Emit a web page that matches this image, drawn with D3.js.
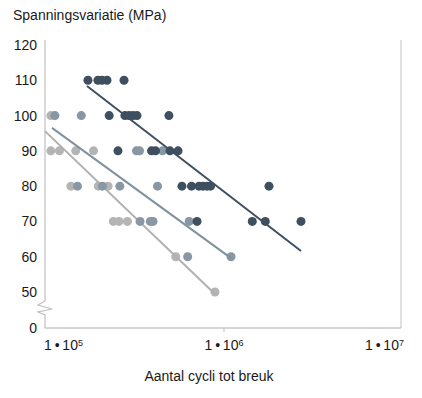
<!DOCTYPE html>
<html>
<head>
<meta charset="UTF-8">
<script src="https://cdn.jsdelivr.net/npm/d3@7"></script>
<style>
  body { margin: 0; background: #fff; font-family: "Liberation Sans", Arial, sans-serif; }
  svg text { fill: #1a1a1a; }
</style>
</head>
<body>
<script>
  // Cycles to failure (N) and stress range (MPa) for the three series
  const darkN  = [143000, 165000, 175000, 188000, 240000,
                  194000, 243000, 258000, 273000, 289000, 457000,
                  220000, 356000, 377000, 464000, 521000,
                  551000, 632000, 704000, 745000, 789000, 830000, 1920000,
                  684000, 1511000, 1821000, 3040000];
  const darkS  = [110, 110, 110, 110, 110,
                  100, 100, 100, 100, 100, 100,
                  90, 90, 90, 90, 90,
                  80, 80, 80, 80, 80, 80, 80,
                  70, 70, 70, 70];

  const midN   = [89000, 130000,
                  287000, 300000, 417000,
                  123000, 176000, 226000, 388000,
                  302000, 350000, 364000, 611000,
                  598000, 1114000];
  const midS   = [100, 100,
                  90, 90, 90,
                  80, 80, 80, 80,
                  70, 70, 70, 70,
                  60, 60];

  const lightN = [84000,
                  84000, 95000, 120000, 155000,
                  112000, 166000, 191000,
                  206000, 223000, 252000,
                  504000,
                  885000];
  const lightS = [100,
                  90, 90, 90, 90,
                  80, 80, 80,
                  70, 70, 70,
                  60,
                  50];

  // Trend lines (start, end)
  const darkFitN  = [141000, 3040000];
  const darkFitS  = [108.4, 61.6];
  const midFitN   = [85400, 1114000];
  const midFitS   = [96.5, 59.6];
  const lightFitN = [77200, 885000];
  const lightFitS = [95.6, 47.2];

  const yTicks = [0, 50, 60, 70, 80, 90, 100, 110, 120];
  const xTicks = [1e5, 1e6, 1e7];
  const xExp   = [5, 6, 7];

  const W = 422, H = 398;
  const plotLeft = 45, plotRight = 401, plotTop = 40, plotBottom = 328;

  const svg = d3.select("body").append("svg")
      .attr("width", W)
      .attr("height", H);

  // log x scale, broken y scale (0 .. 50 squeezed)
  const x = d3.scaleLog().domain([1e5, 1e7]).range([63, 384]);
  const y = d3.scaleLinear().domain([0, 50, 120]).range([plotBottom, 292, 45]);

  // frame: right border
  svg.append("line")
      .attr("x1", plotRight).attr("x2", plotRight)
      .attr("y1", plotTop).attr("y2", plotBottom)
      .attr("stroke", "#d6d6d6").attr("stroke-width", 1.5);

  // bottom axis line
  svg.append("line")
      .attr("x1", plotLeft).attr("x2", plotRight)
      .attr("y1", plotBottom).attr("y2", plotBottom)
      .attr("stroke", "#c8c8c8").attr("stroke-width", 1.5);

  // left axis line with the zigzag break
  const brk = [[plotLeft, plotTop], [plotLeft, 301], [38, 305], [52, 309], [38, 312], [plotLeft, 315], [plotLeft, plotBottom]];
  svg.append("path")
      .attr("d", d3.line()(brk))
      .attr("fill", "none")
      .attr("stroke", "#c0c0c0")
      .attr("stroke-width", 1.2);

  // y axis labels
  const yAxis = d3.axisLeft(y).tickValues(yTicks).tickSize(0).tickPadding(8).tickFormat(d3.format("d"));
  const gy = svg.append("g")
      .attr("transform", "translate(" + plotLeft + ",0)")
      .call(yAxis);
  gy.select(".domain").remove();
  gy.selectAll("text")
      .style("font-family", "Liberation Sans, Arial, sans-serif")
      .style("font-size", "14px")
      .attr("fill", "#1a1a1a");

  // x axis labels
  const xAxis = d3.axisBottom(x).tickValues(xTicks).tickSize(4).tickPadding(8).tickFormat("");
  const gx = svg.append("g")
      .attr("transform", "translate(0," + plotBottom + ")")
      .call(xAxis);
  gx.select(".domain").remove();
  gx.selectAll(".tick line")
      .attr("stroke", d => d === 1e6 ? "#c0c0c0" : "none");
  gx.selectAll(".tick text")
      .style("font-family", "Liberation Sans, Arial, sans-serif")
      .style("font-size", "14px")
      .attr("fill", "#1a1a1a")
      .each(function(d, i) {
        const t = d3.select(this);
        t.append("tspan").text("1\u2009\u2022\u200910");
        t.append("tspan").text(xExp[i])
          .attr("dy", "-0.45em")
          .style("font-size", "9px");
      });

  // title + axis label
  svg.append("text")
      .attr("x", 13).attr("y", 20)
      .style("font-size", "14px")
      .text("Spanningsvariatie (MPa)");

  svg.append("text")
      .attr("x", 209).attr("y", 381)
      .attr("text-anchor", "middle")
      .style("font-size", "14px")
      .text("Aantal cycli tot breuk");

  // series
  const series = [
    { n: lightN, s: lightS, fn: lightFitN, fs: lightFitS, dot: "#b4b4b4", line: "#b0b0b0" },
    { n: midN,   s: midS,   fn: midFitN,   fs: midFitS,   dot: "#8797a4", line: "#7f919f" },
    { n: darkN,  s: darkS,  fn: darkFitN,  fs: darkFitS,  dot: "#3e4f60", line: "#3e4f60" }
  ];

  series.forEach(function(ser) {
    svg.append("g").selectAll("circle")
        .data(d3.range(ser.n.length))
      .enter().append("circle")
        .attr("cx", i => x(ser.n[i]))
        .attr("cy", i => y(ser.s[i]))
        .attr("r", 4.5)
        .attr("fill", ser.dot);

    svg.append("line")
        .attr("x1", x(ser.fn[0])).attr("y1", y(ser.fs[0]))
        .attr("x2", x(ser.fn[1])).attr("y2", y(ser.fs[1]))
        .attr("stroke", ser.line)
        .attr("stroke-width", 2);
  });
</script>
</body>
</html>
